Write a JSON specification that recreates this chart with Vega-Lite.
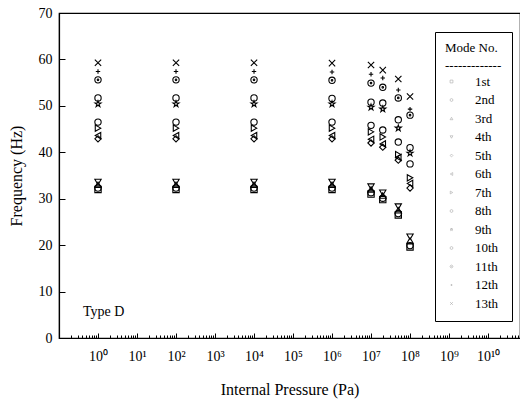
{
  "$schema": "https://vega.github.io/schema/vega-lite/v6.json",
  "width": 461,
  "height": 325,
  "autosize": "none",
  "padding": {"left": 59, "top": 13, "right": 0, "bottom": 61},
  "background": "white",
  "config": {
    "view": {"stroke": "black", "strokeWidth": 1.2},
    "font": "Liberation Serif",
    "axis": {"domainColor": "black", "tickColor": "black", "labelColor": "black", "titleColor": "black", "grid": false, "labelFont": "Liberation Serif", "titleFont": "Liberation Serif", "titleFontWeight": "normal", "domainWidth": 1.2, "tickWidth": 1}
  },
  "datasets": {
    "pts": [
      {"mode": "1st", "p": 1, "f": 32.0}, {"mode": "1st", "p": 100, "f": 32.0}, {"mode": "1st", "p": 10000, "f": 32.0}, {"mode": "1st", "p": 1000000, "f": 32.0}, {"mode": "1st", "p": 10000000, "f": 31.0}, {"mode": "1st", "p": 20000000, "f": 29.8}, {"mode": "1st", "p": 50000000, "f": 26.5}, {"mode": "1st", "p": 100000000, "f": 19.6},
      {"mode": "2nd", "p": 1, "f": 32.3}, {"mode": "2nd", "p": 100, "f": 32.3}, {"mode": "2nd", "p": 10000, "f": 32.3}, {"mode": "2nd", "p": 1000000, "f": 32.3}, {"mode": "2nd", "p": 10000000, "f": 31.3}, {"mode": "2nd", "p": 20000000, "f": 30.1}, {"mode": "2nd", "p": 50000000, "f": 26.8}, {"mode": "2nd", "p": 100000000, "f": 19.9},
      {"mode": "3rd", "p": 1, "f": 33.0}, {"mode": "3rd", "p": 100, "f": 33.0}, {"mode": "3rd", "p": 10000, "f": 33.0}, {"mode": "3rd", "p": 1000000, "f": 33.0}, {"mode": "3rd", "p": 10000000, "f": 32.0}, {"mode": "3rd", "p": 20000000, "f": 30.7}, {"mode": "3rd", "p": 50000000, "f": 27.5}, {"mode": "3rd", "p": 100000000, "f": 21.0},
      {"mode": "4th", "p": 1, "f": 33.6}, {"mode": "4th", "p": 100, "f": 33.6}, {"mode": "4th", "p": 10000, "f": 33.6}, {"mode": "4th", "p": 1000000, "f": 33.6}, {"mode": "4th", "p": 10000000, "f": 32.6}, {"mode": "4th", "p": 20000000, "f": 31.3}, {"mode": "4th", "p": 50000000, "f": 28.3}, {"mode": "4th", "p": 100000000, "f": 21.8},
      {"mode": "5th", "p": 1, "f": 42.9}, {"mode": "5th", "p": 100, "f": 42.9}, {"mode": "5th", "p": 10000, "f": 42.9}, {"mode": "5th", "p": 1000000, "f": 42.9}, {"mode": "5th", "p": 10000000, "f": 42.0}, {"mode": "5th", "p": 20000000, "f": 41.1}, {"mode": "5th", "p": 50000000, "f": 38.3}, {"mode": "5th", "p": 100000000, "f": 32.3},
      {"mode": "6th", "p": 1, "f": 43.6}, {"mode": "6th", "p": 100, "f": 43.6}, {"mode": "6th", "p": 10000, "f": 43.6}, {"mode": "6th", "p": 1000000, "f": 43.6}, {"mode": "6th", "p": 10000000, "f": 42.8}, {"mode": "6th", "p": 20000000, "f": 41.8}, {"mode": "6th", "p": 50000000, "f": 38.9}, {"mode": "6th", "p": 100000000, "f": 33.3},
      {"mode": "7th", "p": 1, "f": 45.2}, {"mode": "7th", "p": 100, "f": 45.2}, {"mode": "7th", "p": 10000, "f": 45.2}, {"mode": "7th", "p": 1000000, "f": 45.2}, {"mode": "7th", "p": 10000000, "f": 44.4}, {"mode": "7th", "p": 20000000, "f": 43.3}, {"mode": "7th", "p": 50000000, "f": 39.5}, {"mode": "7th", "p": 100000000, "f": 34.5},
      {"mode": "8th", "p": 1, "f": 46.5}, {"mode": "8th", "p": 100, "f": 46.5}, {"mode": "8th", "p": 10000, "f": 46.5}, {"mode": "8th", "p": 1000000, "f": 46.5}, {"mode": "8th", "p": 10000000, "f": 45.8}, {"mode": "8th", "p": 20000000, "f": 44.8}, {"mode": "8th", "p": 50000000, "f": 42.2}, {"mode": "8th", "p": 100000000, "f": 37.5},
      {"mode": "9th", "p": 1, "f": 50.4}, {"mode": "9th", "p": 100, "f": 50.4}, {"mode": "9th", "p": 10000, "f": 50.4}, {"mode": "9th", "p": 1000000, "f": 50.4}, {"mode": "9th", "p": 10000000, "f": 49.7}, {"mode": "9th", "p": 20000000, "f": 49.3}, {"mode": "9th", "p": 50000000, "f": 45.2}, {"mode": "9th", "p": 100000000, "f": 39.8},
      {"mode": "10th", "p": 1, "f": 51.7}, {"mode": "10th", "p": 100, "f": 51.7}, {"mode": "10th", "p": 10000, "f": 51.7}, {"mode": "10th", "p": 1000000, "f": 51.6}, {"mode": "10th", "p": 10000000, "f": 50.8}, {"mode": "10th", "p": 20000000, "f": 50.6}, {"mode": "10th", "p": 50000000, "f": 47.0}, {"mode": "10th", "p": 100000000, "f": 41.0},
      {"mode": "11th", "p": 1, "f": 55.6}, {"mode": "11th", "p": 100, "f": 55.6}, {"mode": "11th", "p": 10000, "f": 55.6}, {"mode": "11th", "p": 1000000, "f": 55.5}, {"mode": "11th", "p": 10000000, "f": 54.9}, {"mode": "11th", "p": 20000000, "f": 54.0}, {"mode": "11th", "p": 50000000, "f": 51.7}, {"mode": "11th", "p": 100000000, "f": 48.0},
      {"mode": "12th", "p": 1, "f": 57.4}, {"mode": "12th", "p": 100, "f": 57.4}, {"mode": "12th", "p": 10000, "f": 57.4}, {"mode": "12th", "p": 1000000, "f": 57.3}, {"mode": "12th", "p": 10000000, "f": 56.8}, {"mode": "12th", "p": 20000000, "f": 56.0}, {"mode": "12th", "p": 50000000, "f": 53.4}, {"mode": "12th", "p": 100000000, "f": 49.3},
      {"mode": "13th", "p": 1, "f": 59.3}, {"mode": "13th", "p": 100, "f": 59.3}, {"mode": "13th", "p": 10000, "f": 59.3}, {"mode": "13th", "p": 1000000, "f": 59.2}, {"mode": "13th", "p": 10000000, "f": 58.8}, {"mode": "13th", "p": 20000000, "f": 57.7}, {"mode": "13th", "p": 50000000, "f": 55.8}, {"mode": "13th", "p": 100000000, "f": 52.0}
    ]
  },
  "layer": [
    {
      "data": {"name": "pts"},
      "mark": {"type": "point", "filled": false, "stroke": "black", "strokeWidth": 1.1, "size": 40, "opacity": 1},
      "encoding": {
        "x": {
          "field": "p", "type": "quantitative",
          "scale": {"type": "log", "domain": [0.1, 66000000000], "nice": false},
          "axis": {
            "orient": "bottom",
            "title": "Internal Pressure (Pa)",
            "titleFontSize": 16,
            "titlePadding": 16,
            "labelFontSize": 14,
            "tickCount": 40,
            "labelOverlap": false,
            "labelFlush": false,
            "labelExpr": "abs(log(datum.value)/LN10 - round(log(datum.value)/LN10)) < 0.000001 && round(log(datum.value)/LN10) >= 0 ? '10' + ['⁰','¹','²','³','⁴','⁵','⁶','⁷','⁸','⁹','¹⁰','¹¹'][round(log(datum.value)/LN10)] : ''",
            "tickSize": {"condition": {"test": "abs(log(datum.value)/LN10 - round(log(datum.value)/LN10)) < 0.000001", "value": -5}, "value": -3},
            "labelPadding": 16
          }
        },
        "y": {
          "field": "f", "type": "quantitative",
          "scale": {"domain": [0, 70], "nice": false},
          "axis": {
            "title": "Frequency (Hz)",
            "titleFontSize": 16,
            "titlePadding": 14,
            "labelFontSize": 14,
            "values": [0, 5, 10, 15, 20, 25, 30, 35, 40, 45, 50, 55, 60, 65, 70],
            "labelExpr": "datum.value % 10 === 0 ? datum.value : ''",
            "tickSize": {"condition": {"test": "datum.value % 10 === 0", "value": -6}, "value": -3},
            "labelPadding": 13
          }
        },
        "shape": {
          "field": "mode", "type": "nominal",
          "scale": {
            "domain": ["1st", "2nd", "3rd", "4th", "5th", "6th", "7th", "8th", "9th", "10th", "11th", "12th", "13th"],
            "range": ["square", "circle", "triangle-up", "triangle-down", "diamond", "triangle-left", "triangle-right", "circle", "M0,-1L0.224,-0.309L0.951,-0.309L0.363,0.118L0.588,0.809L0,0.382L-0.588,0.809L-0.363,0.118L-0.951,-0.309L-0.224,-0.309Z", "circle", "M1,0A1,1 0 1,1 -1,0A1,1 0 1,1 1,0ZM0.25,0A0.25,0.25 0 1,1 -0.25,0A0.25,0.25 0 1,1 0.25,0Z", "M-0.7,0L0.7,0M0,-0.7L0,0.7", "M-1,-1L1,1M-1,1L1,-1"]
          },
          "legend": {
            "orient": "none",
            "legendX": 376,
            "legendY": 19,
            "title": ["Mode No.", "-------------"],
            "titleFont": "Liberation Serif",
            "titleFontSize": 13,
            "titleFontWeight": "normal",
            "titleLineHeight": 18,
            "titlePadding": 2,
            "titleColor": "black",
            "labelFont": "Liberation Serif",
            "labelFontSize": 13,
            "labelColor": "black",
            "labelOffset": 17,
            "rowPadding": 4.5,
            "symbolSize": 8,
            "symbolStrokeColor": "#aaaaaa",
            "symbolStrokeWidth": 0.6,
            "strokeColor": "black",
            "fillColor": "white",
            "padding": 10,
            "cornerRadius": 0
          }
        }
      }
    },
    {
      "data": {"values": [{"label": "Type D"}]},
      "mark": {"type": "text", "align": "left", "baseline": "middle", "font": "Liberation Serif", "fontSize": 14, "color": "black"},
      "encoding": {
        "x": {"datum": 0.41, "type": "quantitative"},
        "y": {"datum": 5.6, "type": "quantitative"},
        "text": {"field": "label"}
      }
    }
  ]
}
